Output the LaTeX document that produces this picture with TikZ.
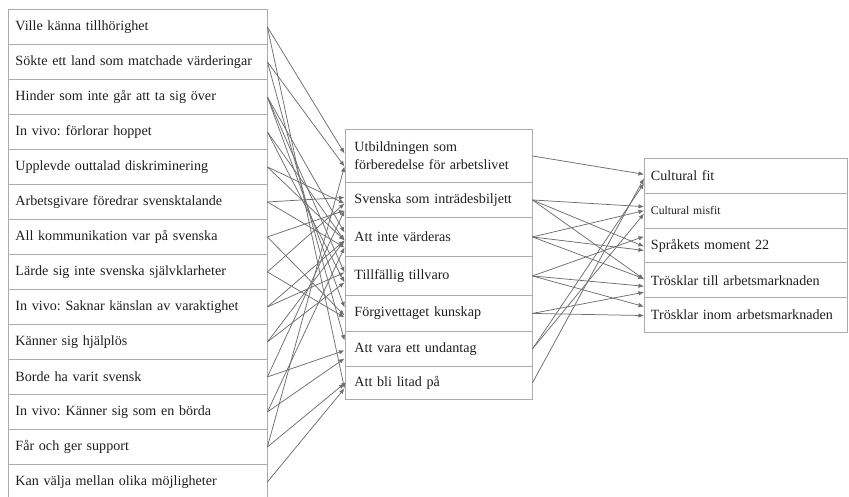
\documentclass[tikz,border=0pt]{standalone}
\usepackage{fontspec}
\setmainfont{Liberation Serif}
\usetikzlibrary{arrows.meta}
\definecolor{boxgray}{RGB}{172,172,172}
\definecolor{linegray}{RGB}{110,110,110}
\definecolor{txtgray}{RGB}{30,30,30}
\frenchspacing

\tikzset{
  codebox/.style={draw=boxgray, line width=0.9pt, rectangle, anchor=north west, align=left,
    text=txtgray, font=\fontsize{14.1}{18}\selectfont, inner ysep=0pt},
  leftbox/.style={codebox, text width=244pt, inner xsep=7.5pt, minimum height=35pt},
  midbox/.style={codebox, text width=168pt, inner xsep=9.5pt},
  rightbox/.style={codebox, text width=190pt, inner xsep=6.5pt, minimum height=34.8pt},
  link/.style={draw=linegray, line width=0.75pt, -{Latex[length=5.5pt,width=4.5pt]}}
}

\begin{document}
\begin{tikzpicture}[x=1pt,y=-1pt]
\useasboundingbox (0,0) rectangle (849,497);

% Codes
\node[leftbox] (l1) at (7.5,9) {Ville känna tillhörighet};
\node[leftbox] (l2) at (7.5,44) {Sökte ett land som matchade värderingar};
\node[leftbox] (l3) at (7.5,79) {Hinder som inte går att ta sig över};
\node[leftbox] (l4) at (7.5,114) {In vivo: förlorar hoppet};
\node[leftbox] (l5) at (7.5,149) {Upplevde outtalad diskriminering};
\node[leftbox] (l6) at (7.5,184) {Arbetsgivare föredrar svensktalande};
\node[leftbox] (l7) at (7.5,219) {All kommunikation var på svenska};
\node[leftbox] (l8) at (7.5,254) {Lärde sig inte svenska självklarheter};
\node[leftbox] (l9) at (7.5,289) {In vivo: Saknar känslan av varaktighet};
\node[leftbox] (l10) at (7.5,324) {Känner sig hjälplös};
\node[leftbox] (l11) at (7.5,359) {Borde ha varit svensk};
\node[leftbox] (l12) at (7.5,394) {In vivo: Känner sig som en börda};
\node[leftbox] (l13) at (7.5,429) {Får och ger support};
\node[leftbox] (l14) at (7.5,464) {Kan välja mellan olika möjligheter};

% Categories
\node[midbox, minimum height=53pt] (m1) at (344.5,129) {Utbildningen som\\förberedelse för arbetslivet};
\node[midbox, minimum height=35pt] (m2) at (344.5,182) {Svenska som inträdesbiljett};
\node[midbox, minimum height=39pt] (m3) at (344.5,217) {Att inte värderas};
\node[midbox, minimum height=39pt] (m4) at (344.5,256) {Tillfällig tillvaro};
\node[midbox, minimum height=36pt] (m5) at (344.5,295) {Förgivettaget kunskap};
\node[midbox, minimum height=35pt] (m6) at (344.5,331) {Att vara ett undantag};
\node[midbox, minimum height=33pt] (m7) at (344.5,366) {Att bli litad på};

% Themes
\node[rightbox] (r1) at (644,158) {Cultural fit};
\node[rightbox, font=\fontsize{11.7}{14}\selectfont] (r2) at (644,192.8) {Cultural misfit};
\node[rightbox] (r3) at (644,227.6) {Språkets moment 22};
\node[rightbox] (r4) at (644,262.4) {Trösklar till arbetsmarknaden};
\node[rightbox] (r5) at (644,297.2) {Trösklar inom arbetsmarknaden};

% Codes to categories
\foreach \s/\t/\o in {1/1/2.5, 1/7/-5.5, 2/1/-10.5, 2/6/8.5, 3/3/4.5, 3/4/3.5, 3/5/6,
    4/3/-3.5, 4/4/-6.5, 5/2/-3.5, 5/3/-3.5, 6/2/2.5, 6/3/-10.5, 7/2/-10.5, 7/5/-2,
    8/5/-4, 8/2/-3.5, 9/4/3.5, 9/3/-3.5, 10/3/-3.5, 10/4/-6.5, 11/6/-1.5, 11/2/-10.5,
    12/6/-9.5, 12/3/-10.5, 13/7/-0.5, 13/1/-10.5, 14/7/-5.5}
  \draw[link] (l\s.east) -- ([yshift=\o pt]m\t.west);

% Categories to themes
\foreach \s/\t/\o in {1/1/1.5, 6/1/-7.5, 7/1/-2.5, 2/2/4, 3/2/0, 6/2/-3, 4/3/9, 2/3/-1,
    3/3/-5, 2/4/1, 3/4/1.5, 4/4/-6, 5/4/-12, 4/5/8.5, 5/5/-0.5}
  \draw[link] (m\s.east) -- ([yshift=\o pt]r\t.west);
\end{tikzpicture}
\end{document}
